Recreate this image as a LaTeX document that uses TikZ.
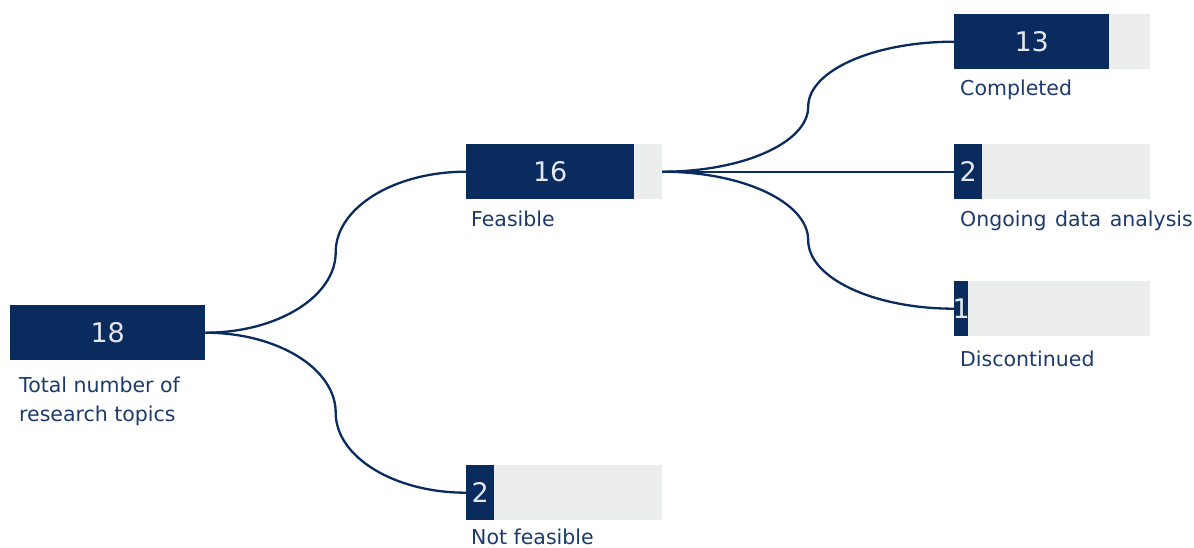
\documentclass[tikz,border=0pt]{standalone}
\usepackage{fontspec}
\setmainfont{DejaVu Sans}
\usetikzlibrary{calc}
\definecolor{navy}{HTML}{0A2B5E}
\definecolor{labelc}{HTML}{1C3A6B}
\definecolor{barbg}{HTML}{ECEEED}
\definecolor{numc}{HTML}{E4E7F1}
\tikzset{
  bgbar/.style={fill=barbg, draw=none, inner sep=0, minimum height=55, minimum width=196, anchor=north west},
  fgbar/.style={fill=navy, draw=none, inner sep=0, minimum height=55, anchor=north west},
  num/.style={text=numc, font=\fontsize{27}{30}\selectfont, inner sep=0},
  lbl/.style={text=labelc, font=\fontsize{20.5}{29}\selectfont, inner sep=0, anchor=base west, align=left},
  link/.style={draw=navy, line width=2.3pt}
}
\newcommand\branchlink[2]{%
  \path (#1) coordinate (bA) (#2) coordinate (bB) ($(bA)!0.5!(bB)$) coordinate (bM);
  \draw[link] (bA) .. controls ($(bA)!0.552!(bA -| bM)$) and ($(bM)!0.552!(bM |- bA)$) .. (bM)
    .. controls ($(bM)!0.552!(bM |- bB)$) and ($(bB)!0.552!(bM |- bB)$) .. (bB);}
\begin{document}
\begin{tikzpicture}[x=1pt,y=-1pt]
\useasboundingbox (0,0) rectangle (1194,548);
% root
\node[fgbar, minimum width=195] (root) at (10,305) {};
\node[num] (rootn) at (root.center) {18};
\node[lbl] (rootl) at (19,421) {Total number of\\research topics};
% feasible
\node[bgbar] (feasbg) at (466,144) {};
\node[fgbar, minimum width=168] (feas) at (466,144) {};
\node[num] (feasn) at (feas.center) {16};
\node[lbl] (feasl) at (471,226) {Feasible};
% not feasible
\node[bgbar] (nfbg) at (466,465) {};
\node[fgbar, minimum width=28] (nf) at (466,465) {};
\node[num] (nfn) at (nf.center) {2};
\node[lbl] (nfl) at (471,544) {Not feasible};
% completed
\node[bgbar] (compbg) at (954,14) {};
\node[fgbar, minimum width=155] (comp) at (954,14) {};
\node[num] (compn) at (comp.center) {13};
\node[lbl] (compl) at (960,96) {Completed};
% ongoing
\node[bgbar] (ongbg) at (954,144) {};
\node[fgbar, minimum width=28] (ong) at (954,144) {};
\node[num] (ongn) at (ong.center) {2};
\node[lbl] (ongl) at (960,226) {Ongoing\hspace{2pt} data\hspace{2pt} analysis};
% discontinued
\node[bgbar] (discbg) at (954,281) {};
\node[fgbar, minimum width=14] (disc) at (954,281) {};
\node[num] (discn) at (disc.center) {1};
\node[lbl] (discl) at (960,366) {Discontinued};
% connectors
\branchlink{root.east}{feasbg.west}
\branchlink{root.east}{nfbg.west}
\branchlink{feasbg.east}{compbg.west}
\draw[link] (feasbg.east) -- (ongbg.west);
\branchlink{feasbg.east}{discbg.west}
\end{tikzpicture}
\end{document}
